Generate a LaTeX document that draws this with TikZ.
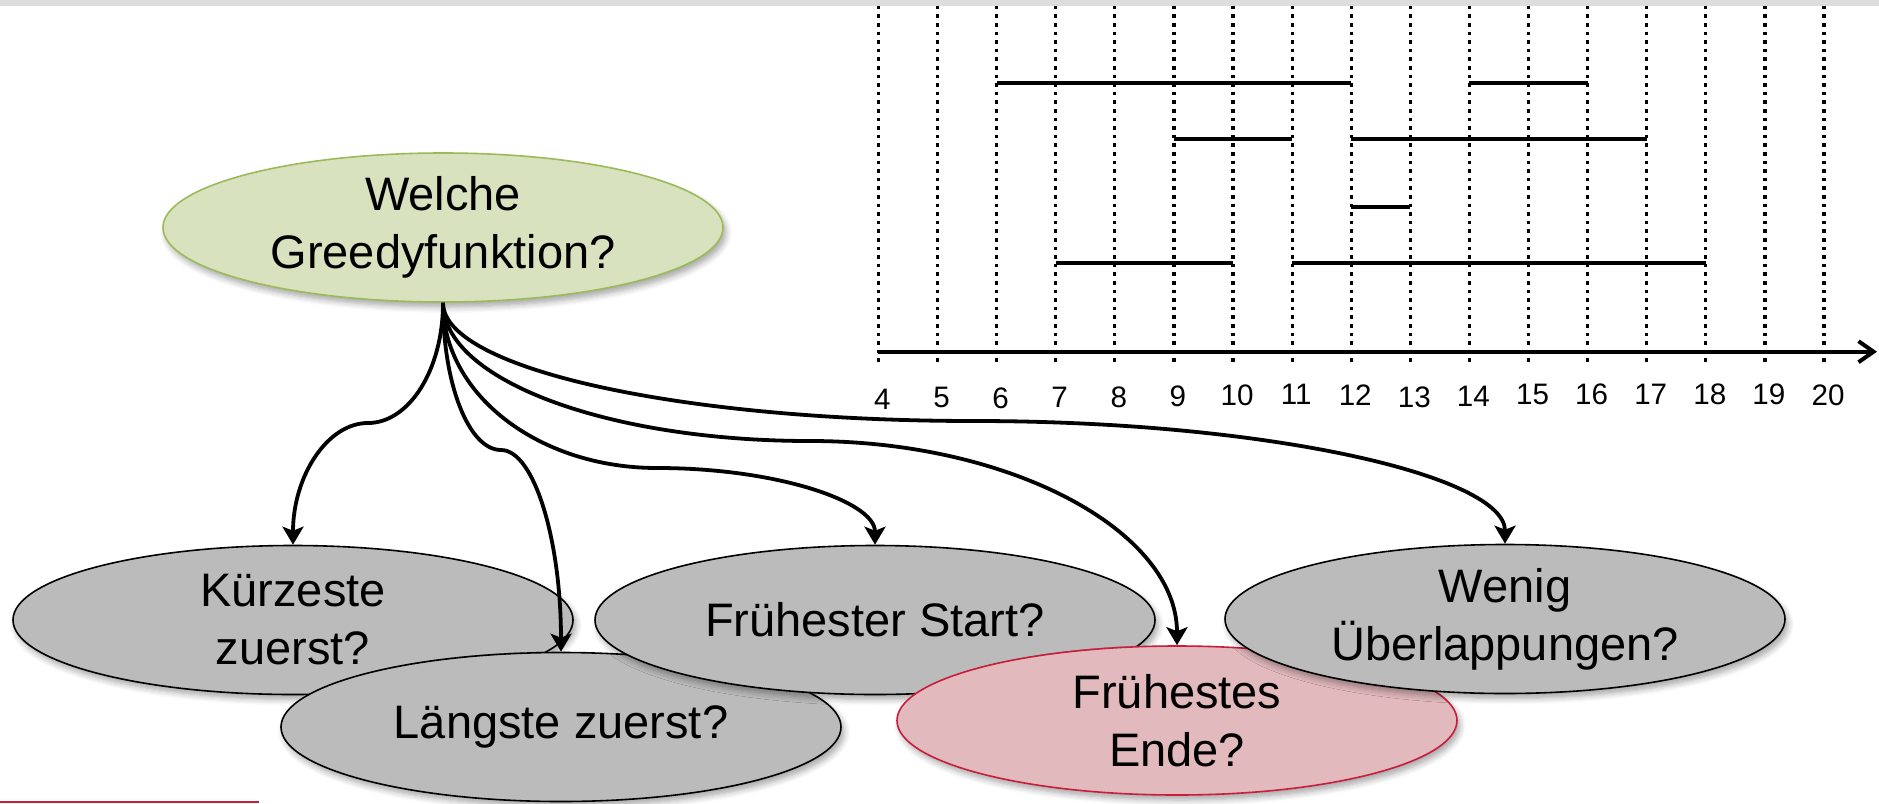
\documentclass[tikz,border=0pt]{standalone}
\usepackage{fontspec}
\setmainfont{Liberation Sans}
\usetikzlibrary{shapes.geometric,arrows.meta,shadows.blur}
\definecolor{bubblegray}{RGB}{187,187,187}
\definecolor{greenfill}{RGB}{216,226,190}
\definecolor{greenline}{RGB}{155,187,89}
\definecolor{pinkfill}{RGB}{226,185,189}
\definecolor{redline}{RGB}{200,30,60}
\definecolor{topbar}{RGB}{221,221,221}
\begin{document}
\begin{tikzpicture}[x=0.5pt,y=-0.5pt,
  bubble/.style={ellipse, draw=black, line width=0.8pt, fill=bubblegray,
    minimum width=280pt, minimum height=74.5pt, inner sep=0pt, align=center,
    font=\fontsize{23.5}{29}\selectfont,
    blur shadow={shadow xshift=1.5pt, shadow yshift=-2.5pt, shadow blur steps=6, shadow opacity=35, shadow blur radius=3pt}},
  rootbubble/.style={bubble, fill=greenfill, draw=greenline},
  goodbubble/.style={bubble, fill=pinkfill, draw=redline},
  conn/.style={line width=1.9pt, -{Stealth[length=9pt,width=10.5pt,inset=2pt]}},
  gridline/.style={line width=1.6pt, dash pattern=on 1.8pt off 2.5pt},
  interval/.style={line width=2pt},
  axisline/.style={line width=2pt, -{Straight Barb[length=7.5pt,width=10.5pt]}},
  numlabel/.style={font=\fontsize{14.8}{17}\selectfont, inner sep=0pt}
]
\useasboundingbox (0,0) rectangle (1879,803);
% top bar
\fill[topbar] (0,0) rectangle (1879,5.7);
% bottom red line
\fill[redline] (0,800.5) rectangle (259,803);

% timeline
\foreach \n in {4,...,20}{
  \draw[gridline] ({878.4+(\n-4)*59.1},5.7) -- ({878.4+(\n-4)*59.1},362);
}
\foreach \a/\b/\yy in {6/12/83.3, 14/16/83.3, 9/11/139.3, 12/17/139.3, 12/13/206.7, 7/10/262.7, 11/18/262.7}{
  \draw[interval] ({878.4+(\a-4)*59.1},\yy) -- ({878.4+(\b-4)*59.1},\yy);
}
\coordinate (axs) at (878.4,351.7);
\coordinate (axe) at (1877,351.7);
\draw[axisline] (axs) -- (axe);
\foreach \n/\yy in {4/399,5/397,6/398,7/397,8/397,9/396,10/395,11/394,12/395,13/397,14/396,15/394,16/394,17/394,18/394,19/394,20/395}{
  \node[numlabel] (t\n) at ({882.4+(\n-4)*59.1},\yy) {\n};
}

% ellipses
\node[bubble] (K) at (293,620) {Kürzeste\\zuerst?};
\node[bubble] (L) at (561,727) {Längste zuerst?};
\node[bubble] (F) at (875,620) {Frühester Start?};
\node[goodbubble] (E) at (1177,720.5) {Frühestes\\Ende?};
\node[bubble] (Wn) at (1505,619) {Wenig\\Überlappungen?};
\node[rootbubble] (W) at (443,227.5) {Welche\\Greedyfunktion?};

% waypoints
\coordinate (mA) at (368,423);
\coordinate (mB) at (501,450);
\coordinate (mC) at (657,468);
\coordinate (mD) at (810,441);
\coordinate (mE) at (974,421);

% connectors
\draw[conn] (W.south) .. controls +(0,67) and +(41,0) .. (mA)
                      .. controls +(-41,0) and +(0,-68) .. (K.north);
\draw[conn] (W.south) .. controls +(0,82) and +(-32,0) .. (mB)
                      .. controls +(33,0) and +(0,-112) .. (L.north);
\draw[conn] (W.south) .. controls +(0,92) and +(-118,0) .. (mC)
                      .. controls +(120,0) and +(0,-43) .. (F.north);
\draw[conn] (W.south) .. controls +(0,77) and +(-203,0) .. (mD)
                      .. controls +(203,0) and +(0,-113) .. (E.north);
\draw[conn] (W.south) .. controls +(0,66) and +(-293,0) .. (mE)
                      .. controls +(293,0) and +(0,-68) .. (Wn.north);
\end{tikzpicture}
\end{document}
